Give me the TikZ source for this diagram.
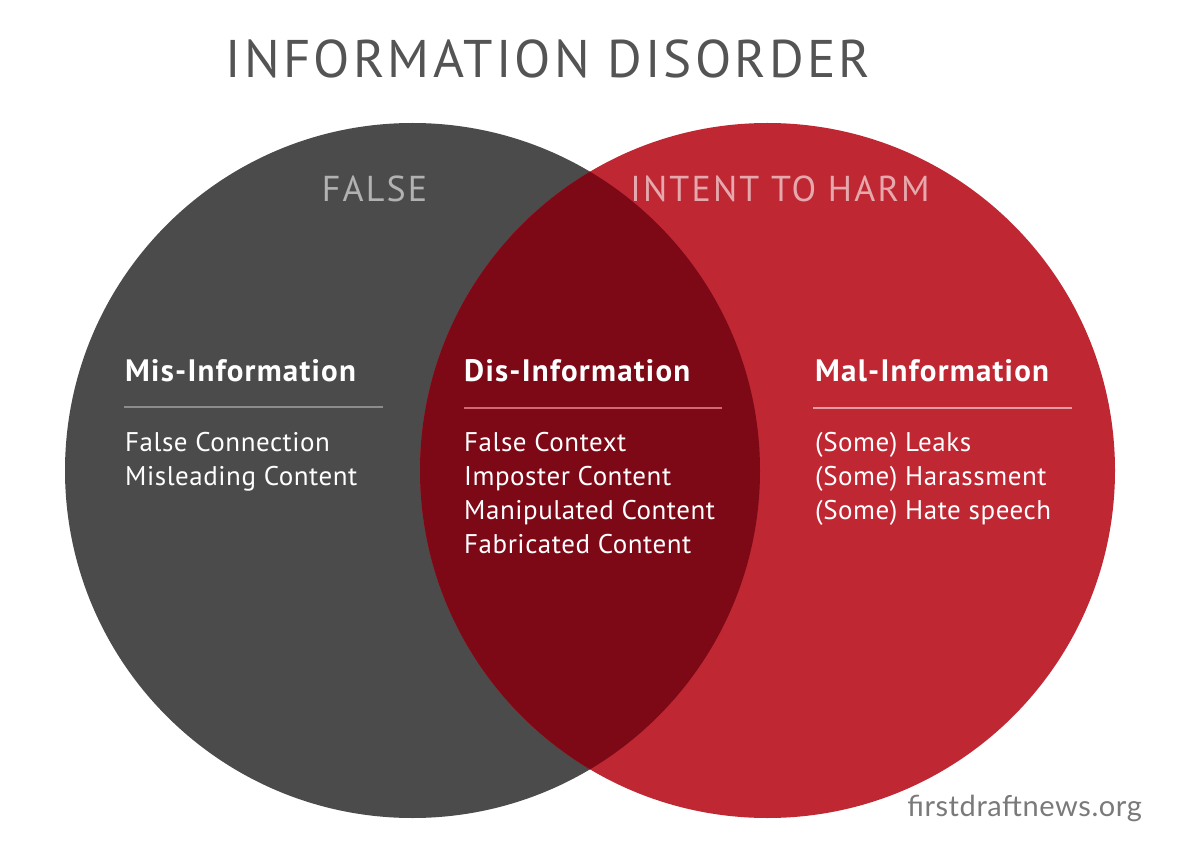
\documentclass[tikz,border=0pt]{standalone}
\usepackage{fontspec}
\setmainfont{PT Sans}
\newfontfamily\titlefont[LetterSpace=6]{PT Sans}
\newfontfamily\headfont[LetterSpace=4]{PT Sans}
\newfontfamily\itemfont[LetterSpace=2]{PT Sans}
\newfontfamily\webfont[LetterSpace=2]{Lato}
\usepackage{tikz}
\usetikzlibrary{positioning}
\definecolor{falsegray}{HTML}{4B4B4B}
\definecolor{harmred}{HTML}{BF2733}
\definecolor{lensred}{HTML}{7D0816}

\begin{document}
\begin{tikzpicture}[x=1pt,y=-1pt,
    bigcap/.style={inner sep=0, anchor=base, font=\titlefont\fontsize{36}{40}\selectfont},
    headtxt/.style={inner sep=0, anchor=base west, text=white, font=\headfont\bfseries\fontsize{31}{34}\selectfont},
    itemtxt/.style={inner sep=0, anchor=base west, text=white, font=\itemfont\fontsize{27}{34}\selectfont},
    rule/.style={line width=1.5pt}]
        \useasboundingbox[fill=white] (0,0) rectangle (1200,853);
        \coordinate (L) at (412.5,470.5);
        \coordinate (R) at (767.5,470.5);
        
        \fill[falsegray] (L) circle (347.5);
        \fill[harmred] (R) circle (347.5);
        % overlap of the two sets
        \begin{scope}
            \clip (L) circle (347.5);
            \fill[lensred] (R) circle (347.5);
        \end{scope}
        
        \node[inner sep=0, anchor=base, text=falsegray!95!white, font=\titlefont\fontsize{53}{60}\selectfont] (title) at (548,78) {INFORMATION DISORDER};
        \node[bigcap, text=black!30] (false) at (374.5,202) {FALSE};
        \node[bigcap, text=harmred!40!white] (harm) at (780,202) {INTENT TO HARM};
        
        \node[headtxt] (mis) at (125,381) {Mis-Information};
        \node[headtxt] (dis) at (464,381) {Dis-Information};
        \node[headtxt] (mal) at (815,381) {Mal-Information};
        
        \coordinate (misa) at (124,407);
        \coordinate (misb) at (383,407);
        \coordinate (disa) at (464,408);
        \coordinate (disb) at (722,408);
        \coordinate (mala) at (813,408);
        \coordinate (malb) at (1072,408);
        \draw[rule, black!45] (misa) -- (misb);
        \draw[rule, harmred!70!white] (disa) -- (disb);
        \draw[rule, harmred!45!white] (mala) -- (malb);
        
        \foreach \t [count=\i] in {False Connection, Misleading Content}
            \node[itemtxt] (mis\i) at (125,417+34*\i) {\t};
        \foreach \t [count=\i] in {False Context, Imposter Content, Manipulated Content, Fabricated Content}
            \node[itemtxt] (dis\i) at (464,417+34*\i) {\t};
        \foreach \t [count=\i] in {(Some) Leaks, (Some) Harassment, (Some) Hate speech}
            \node[itemtxt] (mal\i) at (815,417+34*\i) {\t};
        
        \node[inner sep=0, anchor=base east, text=black!52, font=\webfont\fontsize{29}{34}\selectfont] (web) at (1142,816) {firstdraftnews.org};
    \end{tikzpicture}
\end{document}
